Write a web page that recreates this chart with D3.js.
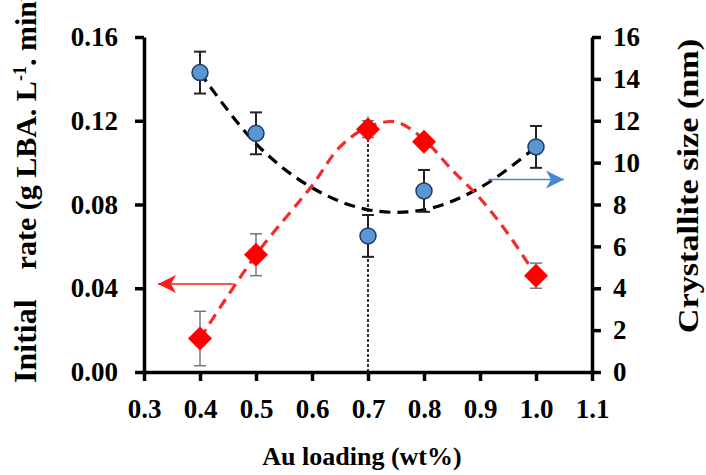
<!DOCTYPE html>
<html lang="en">
<head>
<meta charset="utf-8">
<title>Initial rate and crystallite size vs Au loading</title>
<script src="https://cdn.jsdelivr.net/npm/d3@7"></script>
<style>
  body { margin: 0; background: #fff; }
  svg { display: block; }
  .axis path, .axis line { stroke: #000; stroke-width: 3.5; }
  .axis text { font-family: "Liberation Serif", "Times New Roman", serif; font-weight: bold; font-size: 27px; fill: #000; }
  .title { font-family: "Liberation Serif", "Times New Roman", serif; font-weight: bold; fill: #000; white-space: pre; }
</style>
</head>
<body>
<script>
// measured points
var loading = [0.4, 0.5, 0.7, 0.8, 1.0];
var rate = [0.016, 0.056, 0.116, 0.110, 0.046];
var rateErr = [0.013, 0.010, 0.004, 0.002, 0.006];
var size = [14.3, 11.4, 6.5, 8.65, 10.75];
var sizeErr = [1.0, 1.0, 1.0, 1.0, 1.0];

// dashed trend lines
var sizeFitX = [0.4, 0.5, 0.6, 0.7, 0.8, 0.9, 1.0];
var sizeFit = [14.3, 10.9, 8.8, 7.75, 7.75, 8.8, 10.75];
var rateFitX = [0.4, 0.5, 0.6, 0.65, 0.7, 0.75, 0.8, 0.85, 0.9, 0.95, 1.0];
var rateFit = [0.016, 0.056, 0.089, 0.1075, 0.117, 0.1194, 0.111, 0.0965, 0.083, 0.066, 0.046];

var xTicks = [0.3, 0.4, 0.5, 0.6, 0.7, 0.8, 0.9, 1.0, 1.1];
var rateTicks = [0, 0.04, 0.08, 0.12, 0.16];
var sizeTicks = [0, 2, 4, 6, 8, 10, 12, 14, 16];

var w = 706, h = 475;
var padLeft = 144, padRight = 592, padTop = 37, padBottom = 372;

var svg = d3.select("body").append("svg")
  .attr("width", w).attr("height", h);

var x = d3.scaleLinear().domain([0.3, 1.1]).range([padLeft, padRight]);
var yRate = d3.scaleLinear().domain([0, 0.16]).range([padBottom, padTop]);
var ySize = d3.scaleLinear().domain([0, 16]).range([padBottom, padTop]);

// arrowheads
var defs = svg.append("defs");
[["headRed", "#ff1a1a"], ["headBlue", "#4a86d6"]].forEach(function(m) {
  defs.append("marker")
    .attr("id", m[0])
    .attr("viewBox", "0 -10 20 20")
    .attr("refX", 18).attr("refY", 0)
    .attr("markerWidth", 20).attr("markerHeight", 20)
    .attr("markerUnits", "userSpaceOnUse")
    .attr("orient", "auto")
    .append("path")
    .attr("d", "M0,-9 L18,0 L0,9 L5,0 Z")
    .attr("fill", m[1]);
});

// vertical dotted line at 0.7
svg.append("line")
  .attr("x1", x(0.7)).attr("x2", x(0.7))
  .attr("y1", yRate(0)).attr("y2", yRate(0.122))
  .attr("stroke", "#000").attr("stroke-width", 1.6)
  .attr("stroke-dasharray", "3,2");

// trend lines
var sizeLine = d3.line()
  .x(function(d, i) { return x(sizeFitX[i]); })
  .y(function(d) { return ySize(d); })
  .curve(d3.curveCatmullRom);
svg.append("path")
  .attr("d", sizeLine(sizeFit))
  .attr("fill", "none").attr("stroke", "#000")
  .attr("stroke-width", 3.2).attr("stroke-dasharray", "11,7");

var rateLine = d3.line()
  .x(function(d, i) { return x(rateFitX[i]); })
  .y(function(d) { return yRate(d); })
  .curve(d3.curveCatmullRom);
svg.append("path")
  .attr("d", rateLine(rateFit))
  .attr("fill", "none").attr("stroke", "#f52a2a")
  .attr("stroke-width", 3.2).attr("stroke-dasharray", "11,7");

// error bars
function errorBars(vals, errs, y, color, width) {
  var g = svg.append("g").attr("stroke", color).attr("stroke-width", width);
  loading.forEach(function(l, i) {
    var cx = x(l), y1 = y(vals[i] + errs[i]), y2 = y(vals[i] - errs[i]);
    g.append("line").attr("x1", cx).attr("x2", cx).attr("y1", y1).attr("y2", y2);
    g.append("line").attr("x1", cx - 6).attr("x2", cx + 6).attr("y1", y1).attr("y2", y1);
    g.append("line").attr("x1", cx - 6).attr("x2", cx + 6).attr("y1", y2).attr("y2", y2);
  });
}
errorBars(rate, rateErr, yRate, "#777", 1.5);
errorBars(size, sizeErr, ySize, "#222", 2);

// markers
svg.selectAll(".diamond").data(rate).enter().append("path")
  .attr("class", "diamond")
  .attr("transform", function(d, i) { return "translate(" + x(loading[i]) + "," + yRate(d) + ")"; })
  .attr("d", "M0,-12 L12,0 L0,12 L-12,0 Z")
  .attr("fill", "#ff0000");

svg.selectAll(".dot").data(size).enter().append("circle")
  .attr("class", "dot")
  .attr("cx", function(d, i) { return x(loading[i]); })
  .attr("cy", function(d) { return ySize(d); })
  .attr("r", 8)
  .attr("fill", "#5a96d2").attr("stroke", "#1f3a66").attr("stroke-width", 1.5);

// arrows pointing to each series' axis
svg.append("line")
  .attr("x1", x(0.46)).attr("x2", x(0.325))
  .attr("y1", yRate(0.042)).attr("y2", yRate(0.042))
  .attr("stroke", "#ff1a1a").attr("stroke-width", 1.5)
  .attr("marker-end", "url(#headRed)");
svg.append("line")
  .attr("x1", x(0.915)).attr("x2", x(1.05))
  .attr("y1", ySize(9.2)).attr("y2", ySize(9.2))
  .attr("stroke", "#4a86d6").attr("stroke-width", 1.5)
  .attr("marker-end", "url(#headBlue)");

// axes
svg.append("g").attr("class", "axis")
  .attr("transform", "translate(0," + padBottom + ")")
  .call(d3.axisBottom(x).tickValues(xTicks).tickFormat(d3.format(".1f"))
    .tickSize(9).tickSizeOuter(0).tickPadding(18));

svg.append("g").attr("class", "axis")
  .attr("transform", "translate(" + padLeft + ",0)")
  .call(d3.axisLeft(yRate).tickValues(rateTicks).tickFormat(d3.format(".2f"))
    .tickSize(9).tickSizeOuter(0).tickPadding(17));

svg.append("g").attr("class", "axis")
  .attr("transform", "translate(" + padRight + ",0)")
  .call(d3.axisRight(ySize).tickValues(sizeTicks)
    .tickSize(9).tickSizeOuter(0).tickPadding(12));

// titles
svg.append("text").attr("class", "title")
  .attr("x", (padLeft + padRight) / 2 - 6).attr("y", 465)
  .attr("text-anchor", "middle").style("font-size", "26px")
  .text("Au loading (wt%)");

var lt = svg.append("text").attr("class", "title")
  .attr("transform", "translate(36,383) rotate(-90)")
  .attr("text-anchor", "start").style("font-size", "30px")
  .attr("xml:space", "preserve");
lt.append("tspan").style("font-size", "32px").text("Initial");
lt.append("tspan").text("    rate (g LBA. L");
lt.append("tspan").attr("baseline-shift", "super").style("font-size", "18px").text("-1");
lt.append("tspan").text(". min");
lt.append("tspan").attr("baseline-shift", "super").style("font-size", "18px").text("-1");
lt.append("tspan").text(")");

svg.append("text").attr("class", "title")
  .attr("transform", "translate(698,186) rotate(-90) scale(1.14,1)")
  .attr("text-anchor", "middle").style("font-size", "30px")
  .text("Crystallite size (nm)");
</script>
</body>
</html>
